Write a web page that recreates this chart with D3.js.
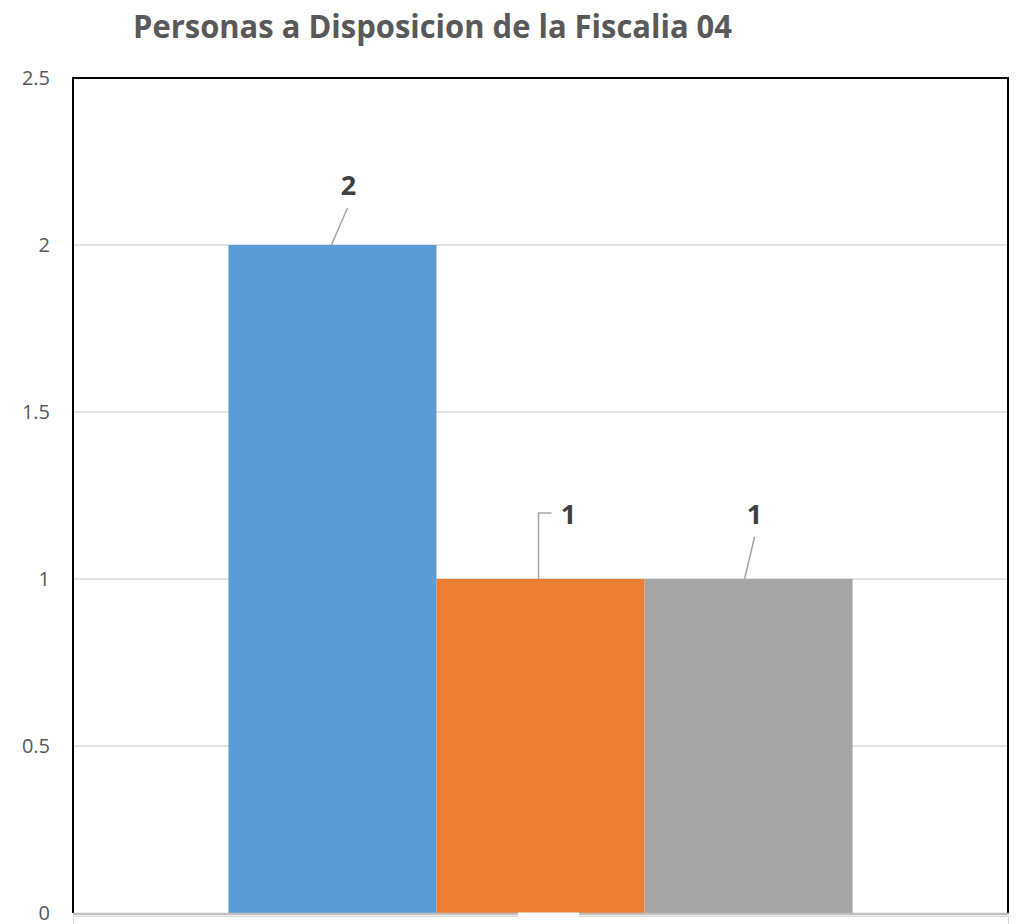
<!DOCTYPE html>
<html>
<head>
<meta charset="utf-8">
<script src="https://cdn.jsdelivr.net/npm/d3@7"></script>
<style>
  body { margin: 0; background: #fff; }
  svg { display: block; font-family: "Open Sans", sans-serif; }
</style>
</head>
<body>
<div id="chart"></div>
<script>
// data
const category = ["Fiscalia 04"];
const seriesNames = ["Serie 1", "Serie 2", "Serie 3"];
const seriesValues = [2, 1, 1];
const seriesColors = ["#5b9bd5", "#ed7d31", "#a5a5a5"];
const yTicks = [0, 0.5, 1, 1.5, 2, 2.5];

// label placement (leader lines), in px relative to bar top centre
const labelLayout = [
  { dx: 16, dy: -50, leader: [[-1, 0], [15, -37]] },
  { dx: 28, dy: -55, leader: [[-2, 0], [-2, -66], [11, -66]] },
  { dx: 6, dy: -55, leader: [[-4, 0], [6, -42]] }
];

const ctx = {
  w: 1017,
  h: 924,
  left: 73,
  right: 1008,
  top: 78,
  bottom: 913
};

const svg = d3.select("#chart").append("svg")
  .attr("width", ctx.w).attr("height", ctx.h);

// title
svg.append("text")
  .attr("x", 133).attr("y", 38)
  .attr("textLength", 599).attr("lengthAdjust", "spacingAndGlyphs")
  .style("font-size", "33px").style("font-weight", "bold")
  .style("fill", "#595959")
  .text("Personas a Disposicion de la Fiscalia 04");

const y = d3.scaleLinear().domain([0, 2.5]).range([ctx.bottom, ctx.top]);

const x0 = d3.scaleBand().domain(category)
  .range([ctx.left, ctx.right])
  .paddingInner(0).paddingOuter(0.249);
const x1 = d3.scaleBand().domain(seriesNames)
  .range([0, x0.bandwidth()]).padding(0);

// gridlines
svg.append("g").selectAll("line")
  .data(yTicks.filter(t => t > 0 && t < 2.5))
  .enter().append("line")
  .attr("x1", ctx.left).attr("x2", ctx.right)
  .attr("y1", d => y(d)).attr("y2", d => y(d))
  .style("stroke", "#d9d9d9").style("stroke-width", 1.3);

// y tick labels
svg.append("g").selectAll("text")
  .data(yTicks)
  .enter().append("text")
  .attr("x", 50).attr("y", d => y(d) + 7)
  .attr("text-anchor", "end")
  .style("font-size", "20px").style("fill", "#595959")
  .text(d => d);

// bars
const data = seriesNames.map((s, i) => ({ cat: category[0], name: s, value: seriesValues[i], color: seriesColors[i], lay: labelLayout[i] }));
svg.append("g").selectAll("rect")
  .data(data)
  .enter().append("rect")
  .attr("x", d => x0(d.cat) + x1(d.name))
  .attr("y", d => y(d.value))
  .attr("width", x1.bandwidth())
  .attr("height", d => y(0) - y(d.value))
  .style("fill", d => d.color);

// plot border (left, top, right)
svg.append("path")
  .attr("d", `M${ctx.left},${ctx.bottom} V${ctx.top} H${ctx.right} V${ctx.bottom}`)
  .style("fill", "none").style("stroke", "#000").style("stroke-width", 2);

// x axis line
svg.append("line")
  .attr("x1", ctx.left).attr("x2", ctx.right + 1)
  .attr("y1", ctx.bottom + 1).attr("y2", ctx.bottom + 1)
  .style("stroke", "#bfbfbf").style("stroke-width", 2.5);

// light frame below (cut off at page bottom)
svg.append("rect")
  .attr("x", ctx.left + 0.5).attr("y", ctx.bottom + 3.5)
  .attr("width", ctx.right - ctx.left).attr("height", 40)
  .style("fill", "#fff").style("stroke", "#d9d9d9").style("stroke-width", 1);

svg.append("rect")
  .attr("x", 518).attr("y", ctx.bottom - 0.5)
  .attr("width", 61).attr("height", 20)
  .style("fill", "#fff");

// labels with leader lines
const lab = svg.append("g").selectAll("g")
  .data(data)
  .enter().append("g")
  .attr("transform", d => `translate(${x0(d.cat) + x1(d.name) + x1.bandwidth() / 2},${y(d.value)})`);

lab.append("path")
  .attr("d", d => d3.line()(d.lay.leader))
  .style("fill", "none").style("stroke", "#a6a6a6").style("stroke-width", 1.5);

lab.append("text")
  .attr("x", d => d.lay.dx).attr("y", d => d.lay.dy)
  .attr("text-anchor", "middle")
  .style("font-size", "27px").style("font-weight", "bold")
  .style("fill", "#404040")
  .text(d => d.value);
</script>
</body>
</html>
